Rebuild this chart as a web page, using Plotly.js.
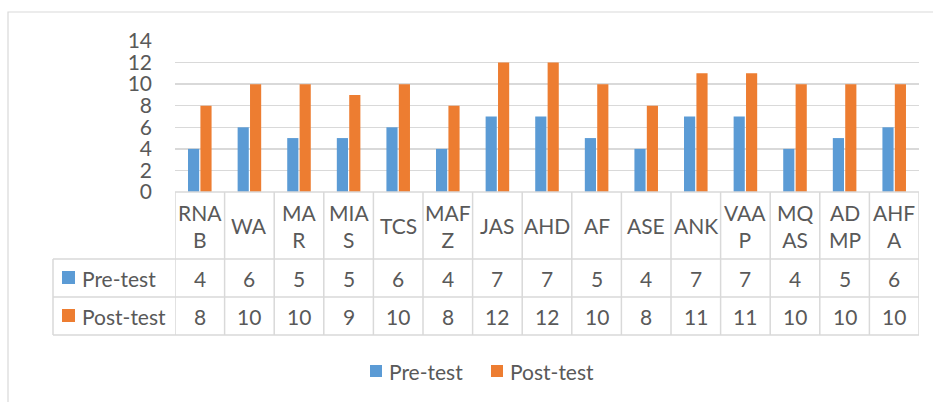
<!DOCTYPE html>
<html>
<head>
<meta charset="utf-8">
<script src="https://cdn.plot.ly/plotly-3.0.1.min.js"></script>
<style>html,body{margin:0;padding:0;background:#fff;}#chart{width:933px;height:402px;}</style>
</head>
<body>
<div id="chart"></div>
<script>
// ---- data ----
const students = ["RNAB","WA","MAR","MIAS","TCS","MAFZ","JAS","AHD","AF","ASE","ANK","VAAP","MQAS","ADMP","AHFA"];
const studentLabels = ["RNA<br>B","WA","MA<br>R","MIA<br>S","TCS","MAF<br>Z","JAS","AHD","AF","ASE","ANK","VAA<br>P","MQ<br>AS","AD<br>MP","AHF<br>A"];
const preTest  = [4,6,5,5,6,4,7,7,5,4,7,7,4,5,6];
const postTest = [8,10,10,9,10,8,12,12,10,8,11,11,10,10,10];
const seriesNames = ["Pre-test","Post-test"];
const yTicks = [0,2,4,6,8,10,12,14];

// ---- layout helpers ----
const W = 933, H = 402;
const M = {l:175, r:14, t:41, b:210};
const PW = W - M.l - M.r, PH = H - M.t - M.b;
const py = p => (H - M.b - p) / PH;   // pixel y -> paper y
const px = p => (p - M.l) / PW;       // pixel x -> paper x
const BLUE = "#5B9BD5", ORANGE = "#ED7D31", GRID = "#D9D9D9", TXT = "#595959";
const FONT = "Lato, 'Open Sans', sans-serif";
const FS = 21;

const idx = students.map((_, i) => i);

const traces = [
  {type:"bar", name:seriesNames[0], x:idx, y:preTest, marker:{color:BLUE}, hoverinfo:"skip"},
  {type:"bar", name:seriesNames[1], x:idx, y:postTest, marker:{color:ORANGE}, hoverinfo:"skip"}
];

const rowTop = [192, 259, 297, 335]; // header, pre, post, bottom (pixels)
const shapes = [];
const line = {color:GRID, width:1.5};
// outer frame
shapes.push({type:"rect", xref:"paper", yref:"paper", x0:px(8), x1:px(960), y0:py(12), y1:py(430), line:{color:GRID, width:1.2}, layer:"below"});
// horizontal table lines
shapes.push({type:"line", xref:"x", yref:"paper", x0:-0.5, x1:14.5, y0:py(rowTop[0]), y1:py(rowTop[0]), line});
for (let k = 1; k < 4; k++) {
  shapes.push({type:"line", xref:"paper", yref:"paper", x0:px(53), x1:1, y0:py(rowTop[k]), y1:py(rowTop[k]), line});
}
// vertical table lines
for (let i = 0; i <= students.length; i++) {
  shapes.push({type:"line", xref:"x", yref:"paper", x0:i-0.5, x1:i-0.5, y0:py(rowTop[0]), y1:py(rowTop[3]), line});
}
shapes.push({type:"line", xref:"paper", yref:"paper", x0:px(53), x1:px(53), y0:py(rowTop[1]), y1:py(rowTop[3]), line});
// legend keys in table
const keyColors = [BLUE, ORANGE];
for (let r = 0; r < 2; r++) {
  const cy = (rowTop[r+1] + rowTop[r+2]) / 2;
  shapes.push({type:"rect", xref:"paper", yref:"paper", x0:px(62), x1:px(75), y0:py(cy-7), y1:py(cy+6), fillcolor:keyColors[r], line:{width:0}});
}

const annotations = [];
const f = {family:FONT, size:FS, color:TXT};
studentLabels.forEach((lab, i) => {
  annotations.push({xref:"x", yref:"paper", x:i, y:py((rowTop[0]+rowTop[1])/2), text:lab, showarrow:false, font:f, xanchor:"center", yanchor:"middle", align:"center"});
});
const rows = [preTest, postTest];
rows.forEach((vals, r) => {
  const cy = py((rowTop[r+1] + rowTop[r+2]) / 2);
  annotations.push({xref:"paper", yref:"paper", x:px(80), y:cy, text:seriesNames[r], showarrow:false, font:f, xanchor:"left", yanchor:"middle"});
  vals.forEach((v, i) => {
    annotations.push({xref:"x", yref:"paper", x:i, y:cy, text:String(v), showarrow:false, font:f, xanchor:"center", yanchor:"middle"});
  });
});

// bottom legend (drawn manually to match spacing)
const legX = [370, 491];
const legY = 371;
for (let r = 0; r < 2; r++) {
  shapes.push({type:"rect", xref:"paper", yref:"paper", x0:px(legX[r]), x1:px(legX[r]+12), y0:py(legY-6), y1:py(legY+6), fillcolor:keyColors[r], line:{width:0}});
  annotations.push({xref:"paper", yref:"paper", x:px(legX[r]+17), y:py(legY), text:seriesNames[r], showarrow:false, font:f, xanchor:"left", yanchor:"middle"});
}

const layout = {
  width:W, height:H,
  margin:M,
  paper_bgcolor:"#fff", plot_bgcolor:"#fff",
  barmode:"group", bargap:0.5, bargroupgap:0.1,
  showlegend:false,
  xaxis:{range:[-0.5,14.5], showticklabels:false, showgrid:false, zeroline:false, showline:false, ticks:"", fixedrange:true},
  yaxis:{range:[0,14], tickvals:yTicks, ticktext:yTicks.map(String), showgrid:true, gridcolor:GRID, gridwidth:1.5, zeroline:false, showline:false, ticks:"", tickfont:f, ticklabelstandoff:22, fixedrange:true},
  shapes, annotations
};

Plotly.newPlot("chart", traces, layout, {displayModeBar:false, staticPlot:true});
</script>
</body>
</html>
